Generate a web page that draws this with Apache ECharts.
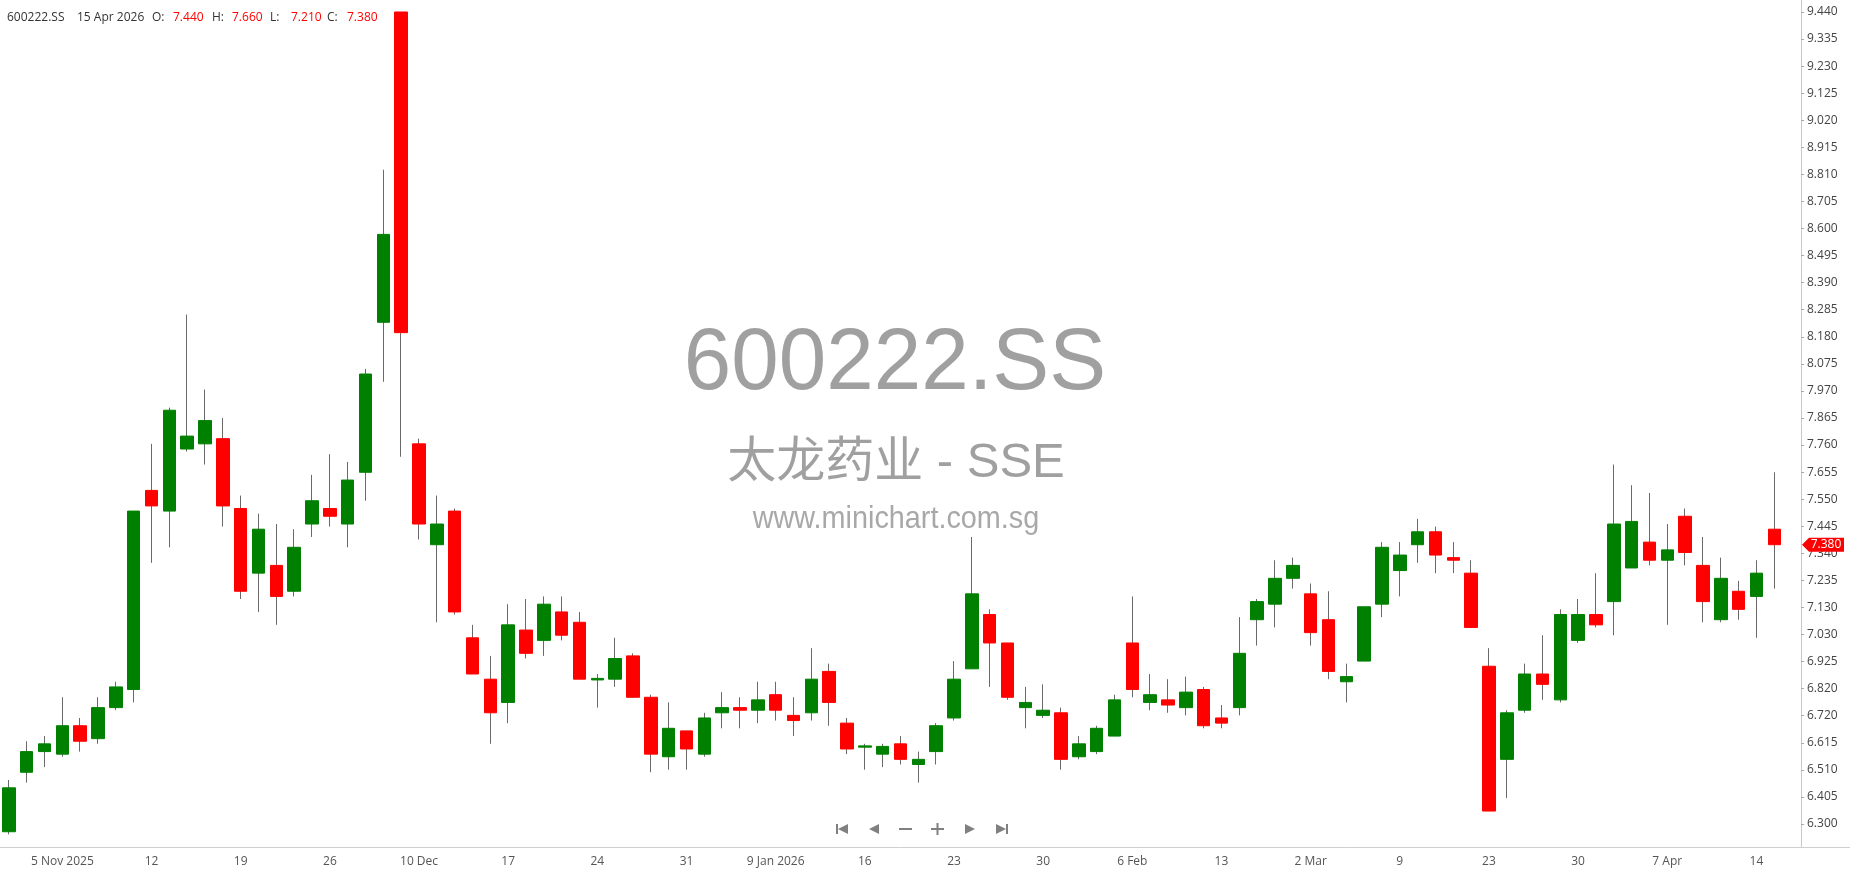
<!DOCTYPE html>
<html>
<head>
<meta charset="utf-8">
<title>600222.SS</title>
<script src="https://cdn.jsdelivr.net/npm/echarts@6.0.0/dist/echarts.min.js"></script>
<style>
  html, body { margin: 0; padding: 0; background: #fff; }
  #chart { width: 1850px; height: 874px; }
</style>
</head>
<body>
<div id="chart"></div>
<script>
// trading days (one candle each)
const dates = [
  '2025-10-31', '2025-11-03', '2025-11-04', '2025-11-05', '2025-11-06', '2025-11-07', '2025-11-10', '2025-11-11',
  '2025-11-12', '2025-11-13', '2025-11-14', '2025-11-17', '2025-11-18', '2025-11-19', '2025-11-20', '2025-11-21',
  '2025-11-24', '2025-11-25', '2025-11-26', '2025-11-27', '2025-11-28', '2025-12-01', '2025-12-02', '2025-12-10',
  '2025-12-11', '2025-12-12', '2025-12-15', '2025-12-16', '2025-12-17', '2025-12-18', '2025-12-19', '2025-12-22',
  '2025-12-23', '2025-12-24', '2025-12-25', '2025-12-26', '2025-12-29', '2025-12-30', '2025-12-31', '2026-01-05',
  '2026-01-06', '2026-01-07', '2026-01-08', '2026-01-09', '2026-01-12', '2026-01-13', '2026-01-14', '2026-01-15',
  '2026-01-16', '2026-01-19', '2026-01-20', '2026-01-21', '2026-01-22', '2026-01-23', '2026-01-26', '2026-01-27',
  '2026-01-28', '2026-01-29', '2026-01-30', '2026-02-02', '2026-02-03', '2026-02-04', '2026-02-05', '2026-02-06',
  '2026-02-09', '2026-02-10', '2026-02-11', '2026-02-12', '2026-02-13', '2026-02-24', '2026-02-25', '2026-02-26',
  '2026-02-27', '2026-03-02', '2026-03-03', '2026-03-04', '2026-03-05', '2026-03-06', '2026-03-09', '2026-03-10',
  '2026-03-11', '2026-03-12', '2026-03-13', '2026-03-23', '2026-03-24', '2026-03-25', '2026-03-26', '2026-03-27',
  '2026-03-30', '2026-03-31', '2026-04-01', '2026-04-02', '2026-04-03', '2026-04-07', '2026-04-08', '2026-04-09',
  '2026-04-10', '2026-04-13', '2026-04-14', '2026-04-15'
];

const openP = [
  6.27, 6.50, 6.58, 6.57, 6.68, 6.63, 6.75, 6.82, 7.59, 7.51,
  7.75, 7.77, 7.79, 7.52, 7.27, 7.30, 7.20, 7.46, 7.52, 7.46,
  7.66, 8.24, 9.44, 7.77, 7.38, 7.51, 7.02, 6.86, 6.77, 7.05,
  7.01, 7.12, 7.08, 6.857, 6.86, 6.95, 6.79, 6.56, 6.66, 6.57,
  6.73, 6.75, 6.74, 6.80, 6.72, 6.73, 6.89, 6.69, 6.597, 6.57,
  6.61, 6.53, 6.58, 6.71, 6.90, 7.11, 7.00, 6.75, 6.72, 6.73,
  6.56, 6.58, 6.64, 7.00, 6.77, 6.78, 6.75, 6.82, 6.71, 6.75,
  7.09, 7.15, 7.25, 7.19, 7.09, 6.85, 6.93, 7.15, 7.28, 7.38,
  7.43, 7.33, 7.27, 6.91, 6.55, 6.74, 6.88, 6.78, 7.01, 7.11,
  7.16, 7.29, 7.39, 7.32, 7.49, 7.30, 7.09, 7.20, 7.18, 7.44
];

const closeP = [
  6.44, 6.58, 6.61, 6.68, 6.62, 6.75, 6.83, 7.51, 7.53, 7.90,
  7.80, 7.86, 7.53, 7.20, 7.44, 7.18, 7.37, 7.55, 7.49, 7.63,
  8.04, 8.58, 8.20, 7.46, 7.46, 7.12, 6.88, 6.73, 7.07, 6.96,
  7.15, 7.03, 6.86, 6.863, 6.94, 6.79, 6.57, 6.67, 6.59, 6.71,
  6.75, 6.74, 6.78, 6.74, 6.70, 6.86, 6.77, 6.59, 6.602, 6.60,
  6.55, 6.55, 6.68, 6.86, 7.19, 7.00, 6.79, 6.77, 6.74, 6.55,
  6.61, 6.67, 6.78, 6.82, 6.80, 6.76, 6.81, 6.68, 6.69, 6.96,
  7.16, 7.25, 7.30, 7.04, 6.89, 6.87, 7.14, 7.37, 7.34, 7.43,
  7.34, 7.32, 7.06, 6.35, 6.73, 6.88, 6.84, 7.11, 7.11, 7.07,
  7.46, 7.47, 7.32, 7.36, 7.35, 7.16, 7.25, 7.13, 7.27, 7.38
];

const lowP = [
  6.26, 6.46, 6.52, 6.56, 6.58, 6.61, 6.74, 6.77, 7.31, 7.37,
  7.74, 7.69, 7.45, 7.17, 7.12, 7.07, 7.18, 7.41, 7.45, 7.37,
  7.55, 8.01, 7.72, 7.40, 7.08, 7.11, 6.88, 6.61, 6.69, 6.94,
  6.95, 7.01, 6.86, 6.75, 6.83, 6.79, 6.50, 6.51, 6.51, 6.56,
  6.67, 6.67, 6.69, 6.70, 6.64, 6.70, 6.68, 6.57, 6.51, 6.52,
  6.53, 6.46, 6.53, 6.70, 6.90, 6.83, 6.78, 6.67, 6.71, 6.51,
  6.55, 6.57, 6.64, 6.79, 6.74, 6.73, 6.72, 6.67, 6.67, 6.72,
  6.99, 7.06, 7.21, 6.99, 6.86, 6.77, 6.93, 7.10, 7.18, 7.31,
  7.27, 7.27, 7.06, 6.35, 6.40, 6.73, 6.78, 6.77, 7.00, 7.06,
  7.03, 7.29, 7.30, 7.07, 7.30, 7.08, 7.08, 7.09, 7.02, 7.21
];

const highP = [
  6.47, 6.62, 6.64, 6.79, 6.71, 6.79, 6.85, 7.51, 7.77, 7.91,
  8.27, 7.98, 7.87, 7.57, 7.50, 7.46, 7.44, 7.65, 7.73, 7.70,
  8.06, 8.83, 9.44, 7.79, 7.57, 7.52, 7.07, 6.95, 7.15, 7.17,
  7.18, 7.18, 7.12, 6.88, 7.02, 6.96, 6.80, 6.77, 6.66, 6.73,
  6.81, 6.79, 6.85, 6.85, 6.79, 6.98, 6.92, 6.71, 6.61, 6.61,
  6.64, 6.58, 6.69, 6.93, 7.41, 7.13, 7.00, 6.83, 6.84, 6.75,
  6.64, 6.68, 6.80, 7.18, 6.88, 6.86, 6.87, 6.83, 6.76, 7.10,
  7.17, 7.32, 7.33, 7.23, 7.20, 6.92, 7.14, 7.39, 7.39, 7.48,
  7.45, 7.39, 7.32, 6.98, 6.74, 6.92, 7.03, 7.13, 7.17, 7.27,
  7.69, 7.61, 7.58, 7.46, 7.52, 7.41, 7.33, 7.24, 7.32, 7.66
];

// x axis tick labels (candle index -> text)
const xTickIndex = [3, 8, 13, 18, 23, 28, 33, 38, 43, 48, 53, 58, 63, 68, 73, 78, 83, 88, 93, 98];
const xTickText = ['5 Nov 2025', '12', '19', '26', '10 Dec', '17', '24', '31', '9 Jan 2026', '16',
  '23', '30', '6 Feb', '13', '2 Mar', '9', '23', '30', '7 Apr', '14'];

// y axis tick labels, bottom to top, evenly spaced
const yTickText = ['6.300', '6.405', '6.510', '6.615', '6.720', '6.820', '6.925', '7.030', '7.130', '7.235',
  '7.340', '7.445', '7.550', '7.655', '7.760', '7.865', '7.970', '8.075', '8.180', '8.285',
  '8.390', '8.495', '8.600', '8.705', '8.810', '8.915', '9.020', '9.125', '9.230', '9.335', '9.440'];

const symbol = '600222.SS';
const nameLine = '太龙药业 - SSE';
const siteLine = 'www.minichart.com.sg';

const UP = '#008000';
const DOWN = '#ff0000';
const WICK = '#6a6a6a';

const yFirst = parseFloat(yTickText[0]);
const yLast = parseFloat(yTickText[yTickText.length - 1]);
const yStep = (yLast - yFirst) / (yTickText.length - 1);
const yTickValues = yTickText.map((t, i) => yFirst + i * yStep);
const yMin = 6.211;
const yMax = 9.4864;

const chart = echarts.init(document.getElementById('chart'));

const wickData = dates.map((d, i) => [openP[i], closeP[i], lowP[i], highP[i]]);
const bodyData = dates.map((d, i) => [openP[i], closeP[i], Math.min(openP[i], closeP[i]), Math.max(openP[i], closeP[i])]);

const showTick = (idx) => xTickIndex.indexOf(idx) >= 0;

chart.setOption({
  animation: false,
  backgroundColor: '#fff',
  grid: { left: 0, right: 49, top: 0, bottom: 27 },
  xAxis: {
    type: 'category',
    data: dates.concat(['']),
    boundaryGap: true,
    axisLine: { lineStyle: { color: '#cfcfcf' } },
    axisTick: { alignWithLabel: true, interval: showTick, length: 6, lineStyle: { color: '#cfcfcf' } },
    axisLabel: {
      interval: showTick,
      margin: 9,
      color: '#555',
      fontSize: 12,
      fontFamily: 'Open Sans',
      formatter: (v, idx) => {
        const k = xTickIndex.indexOf(idx);
        return k >= 0 ? xTickText[k] : '';
      }
    },
    splitLine: { show: false }
  },
  yAxis: {
    type: 'value',
    position: 'right',
    min: yMin,
    max: yMax,
    axisLine: { show: true, lineStyle: { color: '#c8c8c8' } },
    axisTick: { show: true, length: 3, customValues: yTickValues, lineStyle: { color: '#aaa' } },
    axisLabel: {
      customValues: yTickValues,
      margin: 6,
      color: '#444',
      fontSize: 12,
      fontFamily: 'Open Sans',
      formatter: (v) => yTickText[Math.round((v - yFirst) / yStep)] || ''
    },
    splitLine: { show: false }
  },
  series: [
    {
      name: 'wick',
      type: 'candlestick',
      barWidth: 1,
      silent: true,
      itemStyle: { color: WICK, color0: WICK, borderColor: WICK, borderColor0: WICK, borderWidth: 1 },
      data: wickData
    },
    {
      name: 'body',
      type: 'candlestick',
      barWidth: 13,
      silent: true,
      itemStyle: { color: UP, color0: DOWN, borderColor: UP, borderColor0: DOWN, borderWidth: 1 },
      data: bodyData
    }
  ]
});

// header, watermark, nav buttons and last price tag
const last = dates.length - 1;
const lastUp = closeP[last] >= openP[last];
const valColor = lastUp ? UP : DOWN;
const months = ['Jan', 'Feb', 'Mar', 'Apr', 'May', 'Jun', 'Jul', 'Aug', 'Sep', 'Oct', 'Nov', 'Dec'];
const dp = dates[last].split('-');
const lastDateText = parseInt(dp[2], 10) + ' ' + months[parseInt(dp[1], 10) - 1] + ' ' + dp[0];

const hdrFont = { fontSize: 12, fontFamily: 'Open Sans' };
function hdr(x, text, color) {
  return { type: 'text', x: x, y: 18, style: Object.assign({ text: text, fill: color, verticalAlign: 'middle' }, hdrFont) };
}

const axisY = 847;
const tagY = chart.convertToPixel({ yAxisIndex: 0 }, closeP[last]);
const axisX = 1801;

const navGray = '#808080';
const ny = 829;

chart.setOption({
  graphic: [
    // watermark
    { type: 'text', x: 895, y: 365, scaleX: 0.97, z: 0, silent: true,
      style: { text: symbol, fill: '#a0a0a0', font: '88px "Liberation Sans", Arial, sans-serif', align: 'center', verticalAlign: 'middle' } },
    { type: 'text', x: 896, y: 463, z: 0, silent: true,
      style: { text: nameLine, fill: '#a0a0a0', font: '49px "Liberation Sans", "Noto Sans CJK SC", sans-serif', align: 'center', verticalAlign: 'middle' } },
    { type: 'text', x: 896, y: 519, scaleX: 0.9, z: 0, silent: true,
      style: { text: siteLine, fill: '#a8a8a8', font: '32px "Liberation Sans", Arial, sans-serif', align: 'center', verticalAlign: 'middle' } },
    // header
    hdr(7, symbol, '#333'),
    hdr(77, lastDateText, '#333'),
    hdr(152, 'O:', '#333'),
    hdr(173, openP[last].toFixed(3), valColor),
    hdr(212, 'H:', '#333'),
    hdr(232, highP[last].toFixed(3), valColor),
    hdr(270, 'L:', '#333'),
    hdr(291, lowP[last].toFixed(3), valColor),
    hdr(327, 'C:', '#333'),
    hdr(347, closeP[last].toFixed(3), valColor),
    // x axis line continues under the price scale
    { type: 'line', silent: true, shape: { x1: axisX, y1: axisY + 0.5, x2: 1850, y2: axisY + 0.5 }, style: { stroke: '#cfcfcf', lineWidth: 1 } },
    // navigation buttons
    { type: 'rect', silent: true, shape: { x: 836, y: ny - 5, width: 2, height: 10 }, style: { fill: navGray } },
    { type: 'polygon', silent: true, shape: { points: [[838, ny], [848, ny - 5], [848, ny + 5]] }, style: { fill: navGray } },
    { type: 'polygon', silent: true, shape: { points: [[869, ny], [879, ny - 5], [879, ny + 5]] }, style: { fill: navGray } },
    { type: 'rect', silent: true, shape: { x: 899, y: ny - 1, width: 13, height: 2 }, style: { fill: navGray } },
    { type: 'rect', silent: true, shape: { x: 931, y: ny - 1, width: 13, height: 2 }, style: { fill: navGray } },
    { type: 'rect', silent: true, shape: { x: 936.5, y: ny - 6, width: 2, height: 12 }, style: { fill: navGray } },
    { type: 'polygon', silent: true, shape: { points: [[975, ny], [965, ny - 5], [965, ny + 5]] }, style: { fill: navGray } },
    { type: 'polygon', silent: true, shape: { points: [[1006, ny], [996, ny - 5], [996, ny + 5]] }, style: { fill: navGray } },
    { type: 'rect', silent: true, shape: { x: 1006, y: ny - 5, width: 2, height: 10 }, style: { fill: navGray } },
    // last price tag
    { type: 'polygon', z: 10, silent: true,
      shape: { points: [[axisX + 1, tagY], [axisX + 8, tagY - 7], [1844, tagY - 7], [1844, tagY + 7], [axisX + 8, tagY + 7]] },
      style: { fill: valColor } },
    { type: 'text', z: 11, silent: true, x: 1826, y: tagY,
      style: { text: closeP[last].toFixed(3), fill: '#fff', fontSize: 12, fontFamily: 'Open Sans', align: 'center', verticalAlign: 'middle' } }
  ]
});
</script>
</body>
</html>
